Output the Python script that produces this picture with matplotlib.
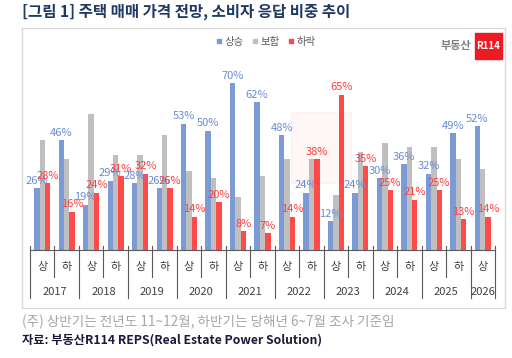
import matplotlib
matplotlib.use('Agg')
from matplotlib import pyplot as plt
from matplotlib.patches import Rectangle
from matplotlib.lines import Line2D
import numpy as np

plt.rcParams['font.family'] = ['Noto Sans CJK KR', 'DejaVu Sans']

# data
halves = ['상', '하'] * 9 + ['상']
years = ['2017', '2018', '2019', '2020', '2021', '2022', '2023', '2024', '2025', '2026']
rise = [26, 46, 19, 29, 28, 26, 53, 50, 70, 62, 48, 24, 12, 24, 30, 36, 32, 49, 52]
flat = [46, 38, 57, 40, 40, 48, 33, 30, 22, 31, 38, 38, 23, 41, 45, 43, 43, 38, 34]
fall = [28, 16, 24, 31, 32, 26, 14, 20, 8, 7, 14, 38, 65, 35, 25, 21, 25, 13, 14]

BLUE = '#7B9BD6'
GRAY = '#BFBFBF'
RED = '#FF4A4A'

fig = plt.figure(figsize=(5.12, 3.58), dpi=100)
W, H = 512, 358

# outer chart frame
fig.patches.append(Rectangle((22 / W, 1 - 308 / H), 483 / W, 280 / H,
                             transform=fig.transFigure, fill=False,
                             edgecolor='#D9D9D9', lw=1.0))

# faint watermark behind the bars
fig.patches.append(Rectangle((291 / W, 1 - 183 / H), 60 / W, 71 / H,
                             transform=fig.transFigure, color='#FF0000',
                             alpha=0.035, zorder=0))

ax = fig.add_axes([30 / W, 1 - 250 / H, 465 / W, 179 / H])
ax.patch.set_alpha(0)
x = np.arange(len(rise))
bw = 0.22
ax.bar(x - bw, rise, bw, color=BLUE, zorder=2)
ax.bar(x, flat, bw, color=GRAY, zorder=2)
ax.bar(x + bw, fall, bw, color=RED, zorder=2)

for i in range(len(x)):
    ax.text(x[i] - bw, rise[i] + 1.0, f'{rise[i]}%', ha='center', va='bottom',
            fontsize=8, color='#6A8CD2', zorder=3)
    ax.text(x[i] + bw, fall[i] + 1.0, f'{fall[i]}%', ha='center', va='bottom',
            fontsize=8, color='#FF3B3B', zorder=3)

ax.set_xlim(-0.5, len(x) - 0.5)
ax.set_ylim(0, 75)
for s in ['top', 'right', 'left']:
    ax.spines[s].set_visible(False)
ax.spines['bottom'].set_color('#595959')
ax.set_yticks([])
ax.set_xticks([])

# two-level category axis
tr = ax.get_xaxis_transform()
for b in np.arange(-0.5, len(x), 1.0):
    yr_edge = (int(b + 0.5) % 2 == 0) or b == len(x) - 0.5
    bottom = -48 / 179 if yr_edge else -27 / 179
    ax.add_line(Line2D([b, b], [0.02, bottom], transform=tr, color='#595959',
                       lw=0.8, clip_on=False))
for i, h in enumerate(halves):
    ax.text(i, -17 / 179, h, transform=tr, ha='center', va='center',
            fontsize=8, color='#404040')
for j, yname in enumerate(years):
    cx = 2 * j + 0.5 if j < len(years) - 1 else 2 * j
    ax.text(cx, -42 / 179, yname, transform=tr, ha='center', va='center',
            fontsize=8, color='#404040')

# legend
handles = [Line2D([], [], marker='s', ls='', color=c, markersize=3.5)
           for c in (BLUE, GRAY, RED)]
fig.legend(handles, ['상승', '보합', '하락'], loc='center',
           bbox_to_anchor=(265 / W, 1 - 42 / H), ncol=3, frameon=False,
           fontsize=7.5, handletextpad=0.0, columnspacing=0.6,
           handlelength=1.0, labelcolor='#595959')

# logo
fig.text(471 / W, 1 - 46 / H, '부동산', ha='right', va='center',
         fontsize=8, color='#7F7F7F', fontweight='bold')
fig.patches.append(Rectangle((475 / W, 1 - 59 / H), 27 / W, 26 / H,
                             transform=fig.transFigure, color='#ED1C24'))
fig.text(488.5 / W, 1 - 46 / H, 'R114', ha='center', va='center',
         fontsize=7, color='white', fontweight='bold')

# title and notes
fig.text(22 / W, 1 - 12 / H, '[그림 1] 주택 매매 가격 전망, 소비자 응답 비중 추이',
         ha='left', va='center', fontsize=11.2, fontweight='bold', color='#203864')
fig.text(22 / W, 1 - 322 / H, '(주) 상반기는 전년도 11~12월, 하반기는 당해년 6~7월 조사 기준임',
         ha='left', va='center', fontsize=9.8, color='#A6A6A6')
fig.text(22 / W, 1 - 340 / H, '자료: 부동산R114 REPS(Real Estate Power Solution)',
         ha='left', va='center', fontsize=8.8, fontweight='bold', color='#1A1A3A')

fig.savefig('out.png', dpi=100)
